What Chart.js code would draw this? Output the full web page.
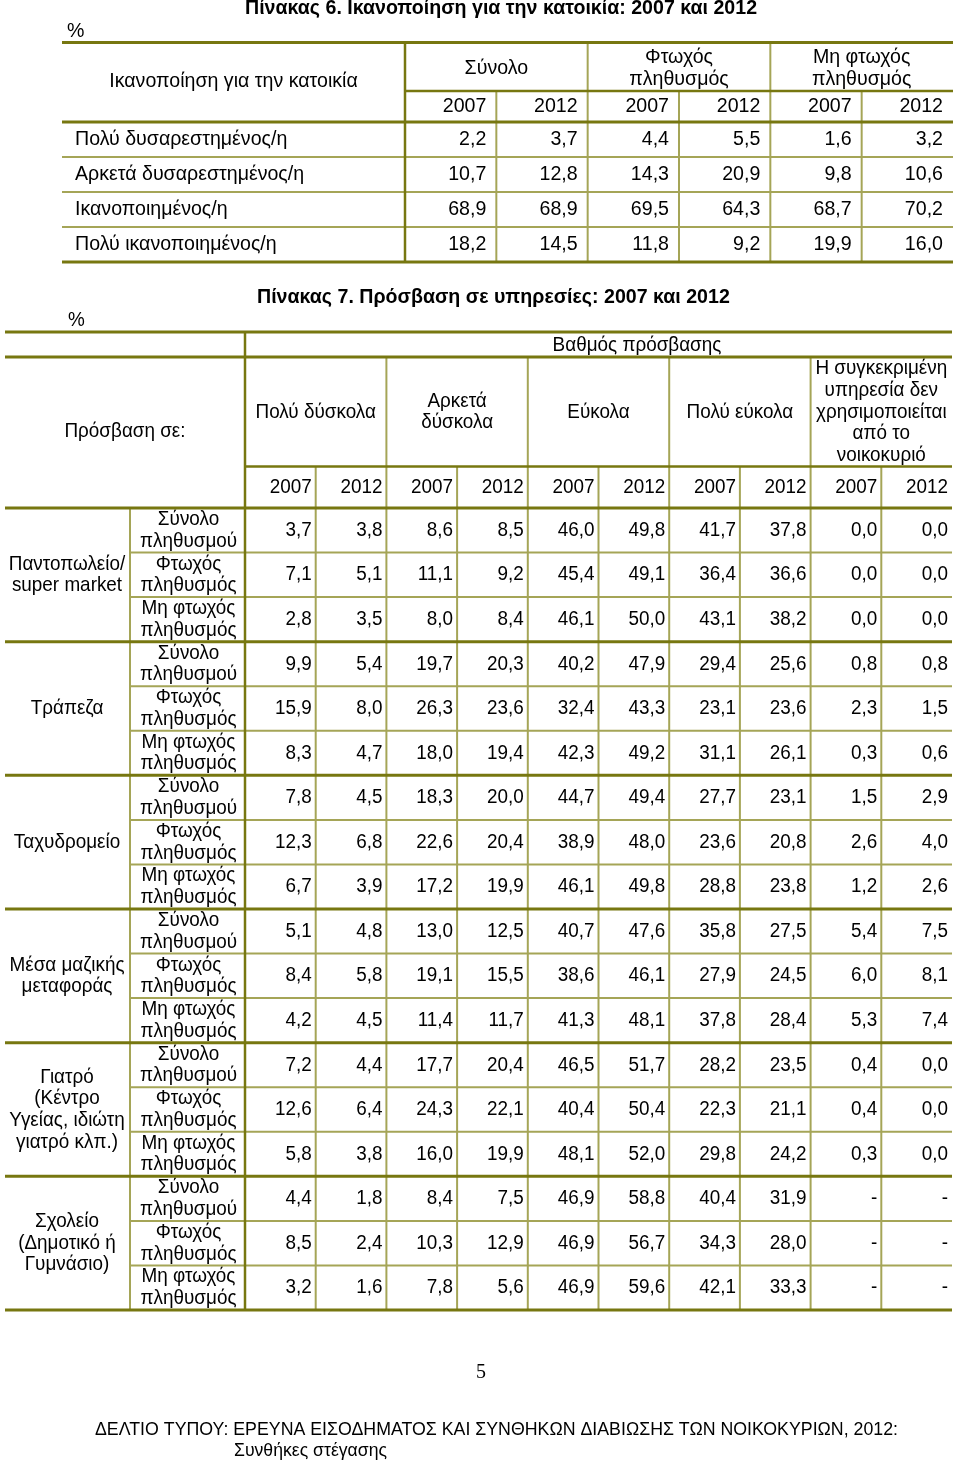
<!DOCTYPE html>
<html>
<head>
<meta charset="utf-8">
<title>Πίνακες 6 και 7</title>
<script src="https://cdn.jsdelivr.net/npm/chart.js@4.4.1/dist/chart.umd.min.js"></script>
<style>
  html, body { margin: 0; padding: 0; background: #fff; }
  #page { position: relative; width: 960px; height: 1461px; }
  #page canvas { position: absolute; left: 0; top: 0; }
</style>
</head>
<body>
<div id="page">
  <canvas id="tbl6" width="960" height="1461"></canvas>
  <canvas id="tbl7" width="960" height="1461"></canvas>
</div>
<script>
/**
 * DATA
 */
const years = ['2007', '2012']

// Πίνακας 6 - Ικανοποίηση για την κατοικία (%)
const satRows = ['Πολύ δυσαρεστημένος/η', 'Αρκετά δυσαρεστημένος/η', 'Ικανοποιημένος/η', 'Πολύ ικανοποιημένος/η']
const popGroups = ['Σύνολο', 'Φτωχός\nπληθυσμός', 'Μη φτωχός\nπληθυσμός']
const satTotal2007 = [2.2, 10.7, 68.9, 18.2]
const satTotal2012 = [3.7, 12.8, 68.9, 14.5]
const satPoor2007 = [4.4, 14.3, 69.5, 11.8]
const satPoor2012 = [5.5, 20.9, 64.3, 9.2]
const satNonPoor2007 = [1.6, 9.8, 68.7, 19.9]
const satNonPoor2012 = [3.2, 10.6, 70.2, 16.0]

// Πίνακας 7 - Πρόσβαση σε υπηρεσίες (%)
const services = ['Παντοπωλείο/\nsuper market', 'Τράπεζα', 'Ταχυδρομείο', 'Μέσα μαζικής\nμεταφοράς',
  'Γιατρό\n(Κέντρο\nΥγείας, ιδιώτη\nγιατρό κλπ.)', 'Σχολείο\n(Δημοτικό ή\nΓυμνάσιο)']
const subGroups = ['Σύνολο\nπληθυσμού', 'Φτωχός\nπληθυσμός', 'Μη φτωχός\nπληθυσμός']
const accessLevels = ['Πολύ δύσκολα', 'Αρκετά\nδύσκολα', 'Εύκολα', 'Πολύ εύκολα',
  'Η συγκεκριμένη\nυπηρεσία δεν\nχρησιμοποιείται\nαπό το\nνοικοκυριό']
const veryHard2007 = [3.7, 7.1, 2.8, 9.9, 15.9, 8.3, 7.8, 12.3, 6.7, 5.1, 8.4, 4.2, 7.2, 12.6, 5.8, 4.4, 8.5, 3.2]
const veryHard2012 = [3.8, 5.1, 3.5, 5.4, 8.0, 4.7, 4.5, 6.8, 3.9, 4.8, 5.8, 4.5, 4.4, 6.4, 3.8, 1.8, 2.4, 1.6]
const fairlyHard2007 = [8.6, 11.1, 8.0, 19.7, 26.3, 18.0, 18.3, 22.6, 17.2, 13.0, 19.1, 11.4, 17.7, 24.3, 16.0, 8.4, 10.3, 7.8]
const fairlyHard2012 = [8.5, 9.2, 8.4, 20.3, 23.6, 19.4, 20.0, 20.4, 19.9, 12.5, 15.5, 11.7, 20.4, 22.1, 19.9, 7.5, 12.9, 5.6]
const easy2007 = [46.0, 45.4, 46.1, 40.2, 32.4, 42.3, 44.7, 38.9, 46.1, 40.7, 38.6, 41.3, 46.5, 40.4, 48.1, 46.9, 46.9, 46.9]
const easy2012 = [49.8, 49.1, 50.0, 47.9, 43.3, 49.2, 49.4, 48.0, 49.8, 47.6, 46.1, 48.1, 51.7, 50.4, 52.0, 58.8, 56.7, 59.6]
const veryEasy2007 = [41.7, 36.4, 43.1, 29.4, 23.1, 31.1, 27.7, 23.6, 28.8, 35.8, 27.9, 37.8, 28.2, 22.3, 29.8, 40.4, 34.3, 42.1]
const veryEasy2012 = [37.8, 36.6, 38.2, 25.6, 23.6, 26.1, 23.1, 20.8, 23.8, 27.5, 24.5, 28.4, 23.5, 21.1, 24.2, 31.9, 28.0, 33.3]
const notUsed2007 = [0.0, 0.0, 0.0, 0.8, 2.3, 0.3, 1.5, 2.6, 1.2, 5.4, 6.0, 5.3, 0.4, 0.4, 0.3, null, null, null]
const notUsed2012 = [0.0, 0.0, 0.0, 0.8, 1.5, 0.6, 2.9, 4.0, 2.6, 7.5, 8.1, 7.4, 0.0, 0.0, 0.0, null, null, null]


/**
 * HELPERS
 */
const FONT = '"Liberation Sans", Arial, sans-serif'
const SIZE6 = 19.6
const SIZE7 = 18.9
const TITLE_SIZE = 19.6
const SY = 1.07 // scanned page is a little stretched vertically
const OLIVE = '#777710'
const OLIVE_LIGHT = '#a5a557'

let fmt = v => v === null ? '-' : v.toFixed(1).replace('.', ',')

let txt = (ctx, s, x, y, align, opts = {}) => {
  ctx.save()
  ctx.font = (opts.bold ? 'bold ' : '') + (opts.size || SIZE7) + 'px ' + (opts.family || FONT)
  ctx.fillStyle = '#000'
  ctx.textAlign = align
  ctx.textBaseline = 'middle'
  ctx.translate(x, y)
  ctx.scale(opts.sx || 1, SY)
  ctx.fillText(s, 0, 0)
  ctx.restore()
}

// multi-line centred block
let block = (ctx, s, x, cy, gap, size) => {
  const parts = s.split('\n')
  parts.forEach((p, i) => txt(ctx, p, x, cy + (i - (parts.length - 1) / 2) * gap, 'center', { size }))
}

// squeeze a line into a given width (footer uses a narrow face)
let fitTxt = (ctx, s, x, y, width, family, size) => {
  ctx.save()
  ctx.font = size + 'px ' + family
  const w = ctx.measureText(s).width
  ctx.restore()
  txt(ctx, s, x, y, 'left', { family, size, sx: width / w })
}

let hl = (ctx, x1, x2, y, w, c) => {
  ctx.save()
  ctx.beginPath()
  ctx.strokeStyle = c
  ctx.lineWidth = w
  ctx.moveTo(x1, y)
  ctx.lineTo(x2, y)
  ctx.stroke()
  ctx.restore()
}
let vl = (ctx, x, y1, y2, w, c) => {
  ctx.save()
  ctx.beginPath()
  ctx.strokeStyle = c
  ctx.lineWidth = w
  ctx.moveTo(x, y1)
  ctx.lineTo(x, y2)
  ctx.stroke()
  ctx.restore()
}

// cell edges straight from the category scales
let edges = chart => ({
  xb: i => chart.scales.x.getPixelForValue(i - 0.5),
  yb: j => chart.scales.y.getPixelForValue(j - 0.5)
})


/**
 * TABLE CHART (one scatter point per cell, value written at the point)
 */
let makeTable = (id, rowLabels, colLabels, columns, padding, cellPad, size, drawFrame) => {
  return new Chart(document.getElementById(id), {
    type: 'scatter',
    data: {
      datasets: columns.map((col, c) => ({
        data: col.map((v, r) => ({ x: colLabels[c], y: rowLabels[r], v: v })),
        pointRadius: 0,
        pointHoverRadius: 0
      }))
    },
    options: {
      responsive: false,
      animation: false,
      events: [],
      layout: { padding: padding },
      plugins: { legend: { display: false }, tooltip: { enabled: false } },
      scales: {
        x: { type: 'category', labels: colLabels, offset: true, display: false },
        y: { type: 'category', labels: rowLabels, offset: true, display: false }
      }
    },
    plugins: [{
      id: 'cells',
      afterDatasetsDraw(chart) {
        const ctx = chart.ctx
        drawFrame(chart, ctx)
        const half = (chart.chartArea.right - chart.chartArea.left) / colLabels.length / 2
        chart.data.datasets.forEach((ds, c) => {
          chart.getDatasetMeta(c).data.forEach((pt, r) => {
            txt(ctx, fmt(ds.data[r].v), pt.x + half - cellPad, pt.y, 'right', { size })
          })
        })
      }
    }]
  })
}


/**
 * PINAKAS 6
 */
const satCols = []
popGroups.forEach(g => years.forEach(y => satCols.push(g + '|' + y)))

let frame6 = (chart, ctx) => {
  const a = chart.chartArea
  const { xb, yb } = edges(chart)
  const L = 62, TOP = 42.5, MID = 91
  const size = SIZE6

  txt(ctx, 'Πίνακας 6. Ικανοποίηση για την κατοικία: 2007 και 2012', 245, 8, 'left', { bold: true, size: TITLE_SIZE })
  txt(ctx, '%', 67, 31, 'left', { size })
  txt(ctx, 'Ικανοποίηση για την κατοικία', (L + a.left) / 2, 81, 'center', { size })

  popGroups.forEach((g, i) => block(ctx, g, (xb(2 * i) + xb(2 * i + 2)) / 2, 68, 22, size))
  satCols.forEach((c, i) => txt(ctx, years[i % 2], xb(i + 1) - 10, 106.5, 'right', { size }))
  satRows.forEach((r, j) => txt(ctx, r, 75, chart.scales.y.getPixelForValue(j), 'left', { size }))

  // grid
  for (let j = 1; j < satRows.length; j++) hl(ctx, L, a.right, yb(j), 2, OLIVE_LIGHT)
  ;[1, 3, 5].forEach(i => vl(ctx, xb(i), MID, a.bottom, 2, OLIVE_LIGHT))
  ;[2, 4].forEach(i => vl(ctx, xb(i), TOP, a.bottom, 2, OLIVE_LIGHT))
  vl(ctx, a.left, TOP, a.bottom, 2.5, OLIVE)
  hl(ctx, a.left, a.right, MID, 2.5, OLIVE)
  hl(ctx, L, a.right, TOP, 3, OLIVE)
  hl(ctx, L, a.right, a.top, 3, OLIVE)
  hl(ctx, L, a.right, a.bottom, 3, OLIVE)
}

makeTable('tbl6', satRows, satCols,
  [satTotal2007, satTotal2012, satPoor2007, satPoor2012, satNonPoor2007, satNonPoor2012],
  { left: 405, right: 7, top: 122, bottom: 1199 }, 10, SIZE6, frame6)


/**
 * PINAKAS 7
 */
const accessRows = []
services.forEach(s => subGroups.forEach(g => accessRows.push(s + '|' + g)))
const accessCols = []
accessLevels.forEach(l => years.forEach(y => accessCols.push(l + '|' + y)))

let frame7 = (chart, ctx) => {
  const a = chart.chartArea
  const ys = chart.scales.y
  const { xb, yb } = edges(chart)
  const L = 5, TOP = 332, H2 = 357, H3 = 466.5, SUB = 130
  const size = SIZE7

  txt(ctx, 'Πίνακας 7. Πρόσβαση σε υπηρεσίες: 2007 και 2012', 257, 297, 'left', { bold: true, size: TITLE_SIZE })
  txt(ctx, '%', 68, 320, 'left', { size })
  txt(ctx, 'Βαθμός πρόσβασης', 637, 345.5, 'center', { size })
  txt(ctx, 'Πρόσβαση σε:', 125, 431.5, 'center', { size })

  accessLevels.forEach((l, i) => block(ctx, l, (xb(2 * i) + xb(2 * i + 2)) / 2, 412, 21.6, size))
  accessCols.forEach((c, i) => txt(ctx, years[i % 2], xb(i + 1) - 4, 487.5, 'right', { size }))

  accessRows.forEach((r, j) => block(ctx, subGroups[j % 3], (SUB + a.left) / 2 + 1, ys.getPixelForValue(j), 21.6, size))
  services.forEach((s, k) => block(ctx, s, 67, (yb(3 * k) + yb(3 * k + 3)) / 2, 21.7, size))

  // grid
  for (let j = 1; j < accessRows.length; j++) {
    if (j % 3 !== 0) hl(ctx, SUB, a.right, yb(j), 2, OLIVE_LIGHT)
  }
  for (let i = 1; i < accessCols.length; i++) {
    vl(ctx, xb(i), i % 2 ? H3 : H2, a.bottom, 2, OLIVE_LIGHT)
  }
  vl(ctx, SUB, a.top, a.bottom, 2, OLIVE_LIGHT)
  vl(ctx, a.left, TOP, a.bottom, 2.5, OLIVE)
  hl(ctx, a.left, a.right, H3, 2.5, OLIVE)
  hl(ctx, L, a.right, TOP, 3, OLIVE)
  hl(ctx, L, a.right, H2, 3, OLIVE)
  for (let k = 0; k <= services.length; k++) hl(ctx, L, a.right, yb(3 * k), 3, OLIVE)

  // page furniture
  txt(ctx, '5', 481, 1372, 'center', { family: '"Liberation Serif", serif', size: 20 })
  fitTxt(ctx, 'ΔΕΛΤΙΟ ΤΥΠΟΥ: ΕΡΕΥΝΑ ΕΙΣΟΔΗΜΑΤΟΣ ΚΑΙ ΣΥΝΘΗΚΩΝ ΔΙΑΒΙΩΣΗΣ ΤΩΝ ΝΟΙΚΟΚΥΡΙΩΝ, 2012:',
    95, 1430, 803, '"Liberation Sans Narrow", "Liberation Sans", sans-serif', 17)
  fitTxt(ctx, 'Συνθήκες στέγασης', 234, 1451, 153, '"Liberation Sans Narrow", "Liberation Sans", sans-serif', 17)
}

makeTable('tbl7', accessRows, accessCols,
  [veryHard2007, veryHard2012, fairlyHard2007, fairlyHard2012, easy2007, easy2012,
    veryEasy2007, veryEasy2012, notUsed2007, notUsed2012],
  { left: 245, right: 8, top: 508, bottom: 151 }, 4, SIZE7, frame7)
</script>
</body>
</html>
